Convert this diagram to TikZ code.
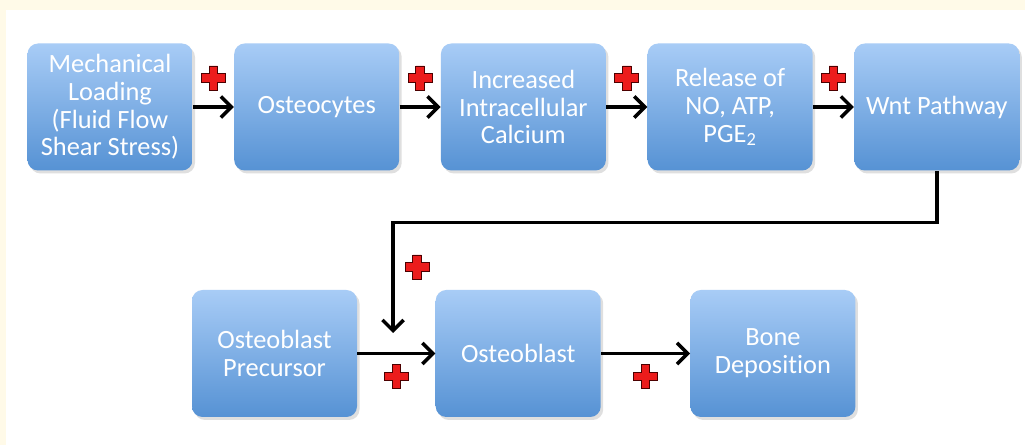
\documentclass[tikz,border=0pt]{standalone}
\usepackage{fontspec}
\setmainfont{Carlito}[Ligatures=NoCommon]
\usetikzlibrary{positioning,arrows.meta,shadows}

\definecolor{cream}{RGB}{255,250,232}
\definecolor{boxtop}{RGB}{168,204,246}
\definecolor{boxbot}{RGB}{86,146,212}
\definecolor{plusred}{RGB}{236,28,28}

\begin{document}
\begin{tikzpicture}[
  box/.style={rectangle, rounded corners=6pt, top color=boxtop, bottom color=boxbot,
              minimum width=3.3cm, minimum height=2.54cm, align=center, text=white,
              font=\fontsize{15}{15.8}\selectfont,
              drop shadow={shadow xshift=0.05cm, shadow yshift=-0.06cm, opacity=0.25}},
  arr/.style={-{Straight Barb[length=6pt,width=12pt]}, line width=2pt, black},
  plusmark/.style={minimum size=0.56cm, inner sep=0pt,
              path picture={\draw[fill=plusred, draw=black!70!red, line width=0.5pt,
                shift={(path picture bounding box.center)}]
                (-0.085,0.24) -- (0.085,0.24) -- (0.085,0.085) -- (0.24,0.085)
                -- (0.24,-0.085) -- (0.085,-0.085) -- (0.085,-0.24) -- (-0.085,-0.24)
                -- (-0.085,-0.085) -- (-0.24,-0.085) -- (-0.24,0.085) -- (-0.085,0.085)
                -- cycle;}},
]
\useasboundingbox (0,0) rectangle (20.5,8.9);
\fill[cream] (0,0) rectangle (20.5,8.9);
\fill[white] (0.12,0) rectangle (20.5,8.7);

% top row
\node[box] (mech) at (2.2,6.76) {Mechanical\\Loading\\(Fluid Flow\\Shear Stress)};
\node[box, right=0.82cm of mech] (osteocytes) {Osteocytes};
\node[box, right=0.82cm of osteocytes] (calcium) {Increased\\Intracellular\\Calcium};
\node[box, right=0.82cm of calcium] (release) {Release of\\NO, ATP,\\PGE\textsubscript{2}};
\node[box, right=0.82cm of release] (wnt) {Wnt Pathway};

% bottom row
\node[box] (precursor) at (5.49,1.83) {Osteoblast\\Precursor};
\node[box, right=1.56cm of precursor] (osteoblast) {Osteoblast};
\node[box, right=1.78cm of osteoblast] (bone) {Bone\\Deposition};

\draw[arr] (mech) -- node[plusmark, yshift=0.58cm] (p1) {} (osteocytes);
\draw[arr] (osteocytes) -- node[plusmark, yshift=0.58cm] (p2) {} (calcium);
\draw[arr] (calcium) -- node[plusmark, yshift=0.58cm] (p3) {} (release);
\draw[arr] (release) -- node[plusmark, yshift=0.58cm] (p4) {} (wnt);

% feedback down to the lower row
\coordinate (fbend) at (7.86,2.24);
\draw[arr] (wnt.south) -- ++(0,-1.03) -| (fbend);
\node[plusmark] (p5) at (8.34,3.56) {};

\draw[arr] (precursor) -- node[plusmark, yshift=-0.46cm] (p6) {} (osteoblast);
\draw[arr] (osteoblast) -- node[plusmark, yshift=-0.46cm] (p7) {} (bone);
\end{tikzpicture}
\end{document}
